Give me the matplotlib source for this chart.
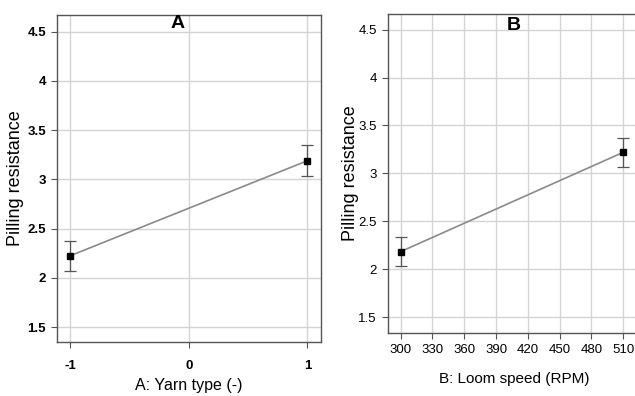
import numpy as np
import matplotlib.pyplot as plt

plt.rcParams['font.family'] = ['Liberation Sans', 'DejaVu Sans']

# Panel A: yarn type
yarn_levels = [-1, 1]
yarn_pilling = [2.225, 3.19]
yarn_err = [0.155, 0.155]

# Panel B: loom speed
speed_levels = [300, 510]
speed_pilling = [2.185, 3.22]
speed_err = [0.153, 0.152]

yticks = [1.5, 2, 2.5, 3, 3.5, 4, 4.5]
ytick_labels = ["1.5", "2", "2.5", "3", "3.5", "4", "4.5"]
xticks_a = [-1, 0, 1]
xticks_b = [300, 330, 360, 390, 420, 450, 480, 510]

fig = plt.figure(figsize=(6.35, 3.96), dpi=100)
ax1 = fig.add_axes([0.0898, 0.1364, 0.4157, 0.8258])
ax2 = fig.add_axes([0.611, 0.160, 0.397, 0.804])


def style(ax):
    ax.grid(True, color="#d4d4d4", linewidth=1.0)
    ax.set_axisbelow(True)
    for s in ax.spines.values():
        s.set_color("#555555")
        s.set_linewidth(1.0)
    ax.tick_params(direction="out", length=4, width=0.8, color="#555555",
                   labelsize=9.5, pad=4)
    ax.set_yticks(yticks)
    ax.set_yticklabels(ytick_labels)
    ax.set_ylabel("Pilling resistance", fontsize=13)


# A
ax1.plot(yarn_levels, yarn_pilling, color="#8a8a8a", linewidth=1.2, zorder=3)
ax1.errorbar(yarn_levels, yarn_pilling, yerr=yarn_err, fmt="none",
             ecolor="#555555", elinewidth=0.9, capsize=4, capthick=0.9, zorder=4)
ax1.plot(yarn_levels, yarn_pilling, "s", color="black", markersize=5, zorder=5)
style(ax1)
ax1.yaxis.set_label_coords(-0.125, 0.5)
ax1.set_xlim(-1.11, 1.115)
ax1.set_ylim(1.35, 4.67)
ax1.set_xticks(xticks_a)
ax1.set_xticklabels(["-1", "0", "1"], fontweight="bold")
ax1.tick_params(axis="x", pad=9)
for lbl in ax1.get_yticklabels():
    lbl.set_fontweight("bold")
ax1.set_xlabel("A: Yarn type (-)", fontsize=11.5, labelpad=4)
ax1.text(0.458, 0.975, "A", transform=ax1.transAxes, ha="center", va="center",
         fontsize=14, fontweight="bold")

# B
ax2.plot(speed_levels, speed_pilling, color="#8a8a8a", linewidth=1.2, zorder=3)
ax2.errorbar(speed_levels, speed_pilling, yerr=speed_err, fmt="none",
             ecolor="#555555", elinewidth=0.9, capsize=4, capthick=0.9, zorder=4)
ax2.plot(speed_levels, speed_pilling, "s", color="black", markersize=5, zorder=5)
style(ax2)
ax2.yaxis.set_label_coords(-0.115, 0.5)
ax2.set_xlim(288, 526)
ax2.set_ylim(1.34, 4.66)
ax2.set_xticks(xticks_b)
ax2.set_xticklabels([str(v) for v in xticks_b])
ax2.set_xlabel("B: Loom speed (RPM)", fontsize=11, labelpad=12)
ax2.text(0.5, 0.965, "B", transform=ax2.transAxes, ha="center", va="center",
         fontsize=14, fontweight="bold")

fig.savefig("out.png", dpi=100)
